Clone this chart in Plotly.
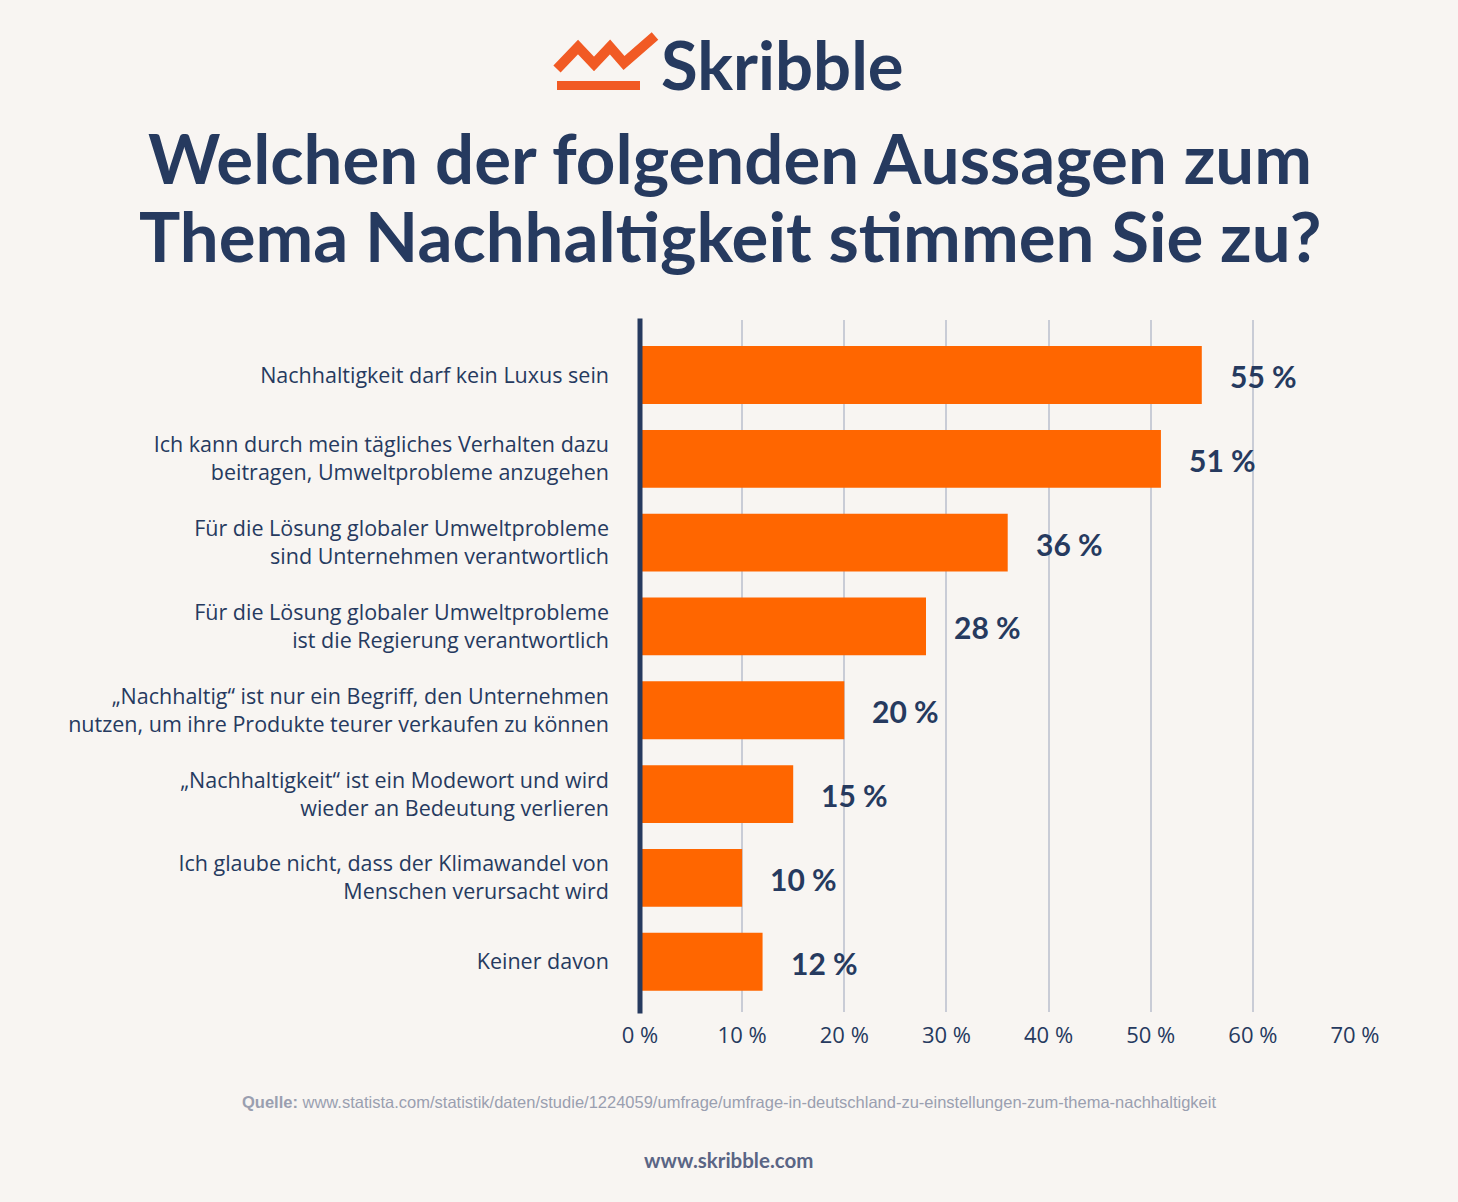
import plotly.graph_objects as go

categories = [
    "Nachhaltigkeit darf kein Luxus sein",
    "Ich kann durch mein tägliches Verhalten dazu<br>beitragen, Umweltprobleme anzugehen",
    "Für die Lösung globaler Umweltprobleme<br>sind Unternehmen verantwortlich",
    "Für die Lösung globaler Umweltprobleme<br>ist die Regierung verantwortlich",
    "„Nachhaltig“ ist nur ein Begriff, den Unternehmen<br>nutzen, um ihre Produkte teurer verkaufen zu können",
    "„Nachhaltigkeit“ ist ein Modewort und wird<br>wieder an Bedeutung verlieren",
    "Ich glaube nicht, dass der Klimawandel von<br>Menschen verursacht wird",
    "Keiner davon",
]
values = [55, 51, 36, 28, 20, 15, 10, 12]
tick_vals = [0, 10, 20, 30, 40, 50, 60, 70]
tick_text = ["0 %", "10 %", "20 %", "30 %", "40 %", "50 %", "60 %", "70 %"]
title_lines = ["Welchen der folgenden Aussagen zum", "Thema Nachhaltigkeit stimmen Sie zu?"]

NAVY = "#263a5f"
ORANGE = "#ff6600"
LOGO = "#f15a24"
BG = "#f8f5f2"
FONT = "Lato"
BODY = "Open Sans"

W, H = 1458, 1202
L, R, T, B = 640, 1355, 320, 1012


def px(x):
    return (x - L) / (R - L)


def py(y):
    return (B - y) / (B - T)


fig = go.Figure()
fig.add_trace(go.Bar(
    y=list(range(len(categories))), x=values, orientation="h",
    marker=dict(color=ORANGE, line=dict(width=0)), width=0.69,
    hoverinfo="skip",
))

for i, v in enumerate(values):
    fig.add_annotation(x=v, y=i, text=f"<b>{v} %</b>", showarrow=False,
                       xanchor="left", xshift=26, yshift=-1,
                       font=dict(family=FONT, size=30, color=NAVY))

shapes = []
# navy axis line
shapes.append(dict(type="line", xref="paper", yref="paper", x0=0, x1=0, y0=-0.002, y1=1.002,
                   line=dict(color=NAVY, width=5), layer="above"))
# logo zigzag
pts = [(557, 69), (578, 47), (594, 64), (610, 47), (624, 63), (655, 36)]
path = "M " + " L ".join(f"{px(x)},{py(y)}" for x, y in pts)
shapes.append(dict(type="path", xref="paper", yref="paper", path=path,
                   line=dict(color=LOGO, width=10)))
shapes.append(dict(type="rect", xref="paper", yref="paper",
                   x0=px(557), x1=px(640), y0=py(90), y1=py(81),
                   fillcolor=LOGO, line=dict(width=0)))

fig.add_annotation(xref="paper", yref="paper", x=px(782), y=py(64),
                   text="<b>Skribble</b>", showarrow=False, xanchor="center", yanchor="middle",
                   font=dict(family=FONT, size=67, color=NAVY))
for line, yc in zip(title_lines, [157, 235]):
    fig.add_annotation(xref="paper", yref="paper", x=px(730), y=py(yc),
                       text=f"<b>{line}</b>",
                       showarrow=False, xanchor="center", yanchor="middle",
                       font=dict(family=FONT, size=69, color=NAVY))
fig.add_annotation(xref="paper", yref="paper", x=px(729), y=py(1102),
                   text="<b>Quelle:</b> www.statista.com/statistik/daten/studie/1224059/umfrage/umfrage-in-deutschland-zu-einstellungen-zum-thema-nachhaltigkeit",
                   showarrow=False, xanchor="center", yanchor="middle",
                   font=dict(family="Liberation Sans", size=16.5, color="#9a9fb0"))
fig.add_annotation(xref="paper", yref="paper", x=px(728), y=py(1160),
                   text="<b>www.skribble.com</b>", showarrow=False, xanchor="center", yanchor="middle",
                   font=dict(family=FONT, size=20.5, color="#5a6585"))

fig.update_layout(
    width=W, height=H,
    margin=dict(l=L, r=W - R, t=T, b=H - B, pad=0),
    paper_bgcolor=BG, plot_bgcolor=BG,
    showlegend=False, shapes=shapes,
    xaxis=dict(range=[0, 70], tickvals=tick_vals, ticktext=tick_text,
               showgrid=True, gridcolor="#c9ccd6", gridwidth=2, zeroline=False,
               showline=False, ticks="", ticklabelstandoff=8,
               tickfont=dict(family=BODY, size=22, color=NAVY)),
    yaxis=dict(range=[7.6, -0.656], tickvals=list(range(len(categories))), ticktext=categories,
               showgrid=False, zeroline=False, showline=False, ticks="",
               ticklabelstandoff=30,
               tickfont=dict(family=BODY, size=21.5, color=NAVY)),
)

fig.write_html("out.html")
